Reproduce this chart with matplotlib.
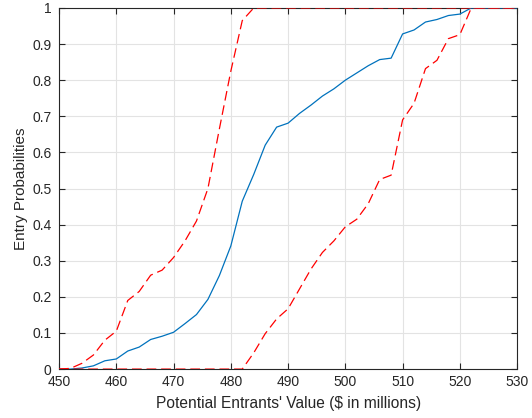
import numpy as np
import matplotlib
matplotlib.use("Agg")
import matplotlib.pyplot as plt

# potential entrants' value grid ($ millions)
value = [450, 452, 454, 456, 458, 460, 462, 464, 466, 468, 470, 472, 474, 476,
         478, 480, 482, 484, 486, 488, 490, 492, 494, 496, 498, 500, 502, 504,
         506, 508, 510, 512, 514, 516, 518, 520, 522, 524, 526, 528, 530]

# mean entry probability
prob_mean = [0, 0, 0.003, 0.009, 0.023, 0.028, 0.050, 0.061, 0.082, 0.091,
             0.102, 0.126, 0.151, 0.193, 0.259, 0.341, 0.465, 0.539, 0.620,
             0.670, 0.681, 0.708, 0.731, 0.756, 0.776, 0.800, 0.820, 0.840,
             0.857, 0.861, 0.928, 0.939, 0.961, 0.968, 0.979, 0.983, 1, 1, 1,
             1, 1]

# upper / lower bands
prob_upper = [0, 0.002, 0.016, 0.039, 0.080, 0.105, 0.190, 0.215, 0.260,
              0.274, 0.309, 0.355, 0.410, 0.500, 0.665, 0.825, 0.965, 1, 1, 1,
              1, 1, 1, 1, 1, 1, 1, 1, 1, 1, 1, 1, 1, 1, 1, 1, 1, 1, 1, 1, 1]

prob_lower = [0, 0, 0, 0, 0, 0, 0, 0, 0, 0, 0, 0, 0, 0, 0, 0, 0, 0.045, 0.098,
              0.139, 0.167, 0.222, 0.277, 0.323, 0.355, 0.394, 0.415, 0.458,
              0.525, 0.537, 0.690, 0.736, 0.832, 0.855, 0.915, 0.926, 1, 1, 1,
              1, 1]

plt.rcParams['font.family'] = ['Liberation Sans', 'DejaVu Sans']
plt.rcParams['lines.scale_dashes'] = False

fig = plt.figure(figsize=(5.32, 4.18), dpi=100)
ax = fig.add_axes([0.111, 0.117, 0.861, 0.864])

ax.plot(value, prob_mean, color='#0072BD', lw=0.9, zorder=3)
ax.plot(value, prob_upper, color='red', lw=0.9, dashes=(7, 3.5), zorder=3)
ax.plot(value, prob_lower, color='red', lw=0.9, dashes=(7, 3.5), zorder=3)

ax.set_xlim(450, 530)
ax.set_ylim(0, 1)
ax.set_xticks(np.arange(450, 531, 10))
ax.set_yticks(np.arange(0, 1.01, 0.1))
ax.set_yticklabels(['0', '0.1', '0.2', '0.3', '0.4', '0.5', '0.6', '0.7', '0.8', '0.9', '1'])

ax.grid(True, color='#e3e3e3', lw=0.8)
ax.set_axisbelow(True)
for s in ax.spines.values():
    s.set_color('#262626')
    s.set_linewidth(0.8)
ax.tick_params(direction='in', top=True, right=True, length=4, width=0.8,
               color='#262626', labelsize=10, labelcolor='#262626')
ax.tick_params(axis='y', pad=5.5)
ax.tick_params(axis='x', pad=4.5)

ax.set_xlabel("Potential Entrants' Value ($ in millions)", fontsize=11.2,
              color='#262626', labelpad=5)
ax.set_ylabel('Entry Probabilities', fontsize=11, color='#262626', labelpad=3)

fig.savefig('out.png', dpi=100)
